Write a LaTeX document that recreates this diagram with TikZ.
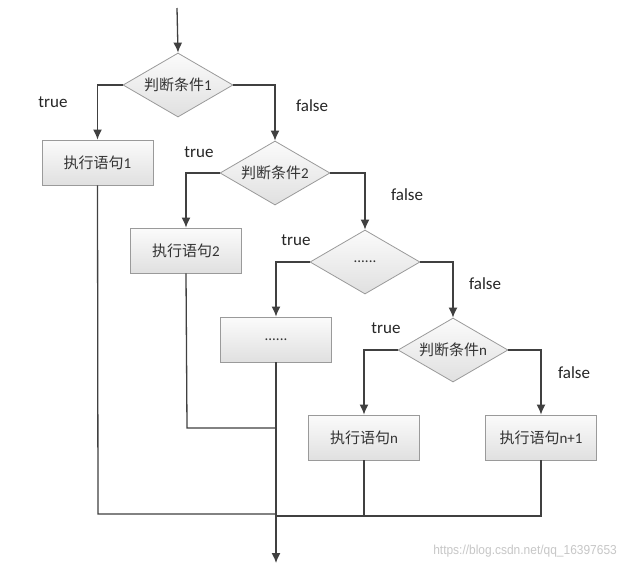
\documentclass[tikz,border=0pt]{standalone}
\usepackage{fontspec}
\setmainfont{Carlito}
\newfontfamily\cjk{Noto Sans CJK SC}
\newfontfamily\wmfont{Liberation Sans}
\usetikzlibrary{shapes.geometric,arrows.meta}
\definecolor{linec}{HTML}{404040}
\definecolor{edgec}{HTML}{9A9A9A}
\definecolor{fillt}{HTML}{FBFBFB}
\definecolor{fillb}{HTML}{E0E0E0}
\tikzset{
  stepbox/.style={draw=edgec, line width=0.8pt, top color=fillt, bottom color=fillb,
    minimum width=111pt, minimum height=45pt, inner sep=0pt, font=\fontsize{15}{17}\selectfont, text=black!80},
  decide/.style={diamond, shape aspect=1.72, draw=edgec, line width=0.8pt, top color=fillt, bottom color=fillb,
    minimum width=110pt, minimum height=64pt, inner sep=0pt, font=\fontsize{15}{17}\selectfont, text=black!80},
  conn/.style={draw=linec, line width=1.3pt},
  arr/.style={conn, -{Latex[length=10pt,width=9pt]}},
  lab/.style={font=\fontsize{17}{19}\selectfont, text=black!85, inner sep=0pt}
}
\begin{document}
\begin{tikzpicture}[x=1pt,y=-1pt]
\useasboundingbox (0,0) rectangle (626,571);
\fill[white] (0,0) rectangle (626,571);
% nodes
\node[decide] (d1) at (178,85) {{\cjk 判断条件}1};
\node[stepbox] (b1) at (97.5,162.5) {{\cjk 执行语句}1};
\node[decide] (d2) at (275,173) {{\cjk 判断条件}2};
\node[stepbox] (b2) at (186,250.5) {{\cjk 执行语句}2};
\node[decide] (d3) at (365,262) {......};
\node[stepbox] (b3) at (276,339.5) {......};
\node[decide] (dn) at (453,350) {{\cjk 判断条件}n};
\node[stepbox] (bn) at (364,437.5) {{\cjk 执行语句}n};
\node[stepbox] (bn1) at (541,437.5) {{\cjk 执行语句}n+1};
% coordinates
\coordinate (start) at (177,8);
\coordinate (j1) at (98,514);
\coordinate (j1e) at (276,514);
\coordinate (j2) at (187,428);
\coordinate (j2e) at (276,428);
\coordinate (jn) at (364,516);
\coordinate (jn1) at (541,516);
\coordinate (jne) at (276,516);
\coordinate (stop) at (276,563);
% connectors
\draw[arr] (start) -- (d1.north);
\draw[arr] (d1.west) -| (b1.north);
\draw[arr] (d1.east) -| (d2.north);
\draw[arr] (d2.west) -| (b2.north);
\draw[arr] (d2.east) -| (d3.north);
\draw[arr] (d3.west) -| (b3.north);
\draw[arr] (d3.east) -| (dn.north);
\draw[arr] (dn.west) -| (bn.north);
\draw[arr] (dn.east) -| (bn1.north);
\draw[conn] (b1.south) -- (j1) -- (j1e);
\draw[conn] (b2.south) -- (j2) -- (j2e);
\draw[conn] (bn.south) -- (jn);
\draw[conn] (bn1.south) -- (jn1) -- (jne);
\draw[arr] (b3.south) -- (stop);
% labels
\node[lab] (t1) at (53,102) {true};
\node[lab] (f1) at (312,106) {false};
\node[lab] (t2) at (199,152) {true};
\node[lab] (f2) at (407,195) {false};
\node[lab] (t3) at (296,240) {true};
\node[lab] (f3) at (485,284) {false};
\node[lab] (t4) at (386,328) {true};
\node[lab] (f4) at (574,373) {false};
% watermark
\node[font=\wmfont\fontsize{13}{15}\selectfont, text=black!22, anchor=east, inner sep=0pt, xscale=0.92] (wm) at (617,551) {https://blog.csdn.net/qq\_16397653};
\end{tikzpicture}
\end{document}
